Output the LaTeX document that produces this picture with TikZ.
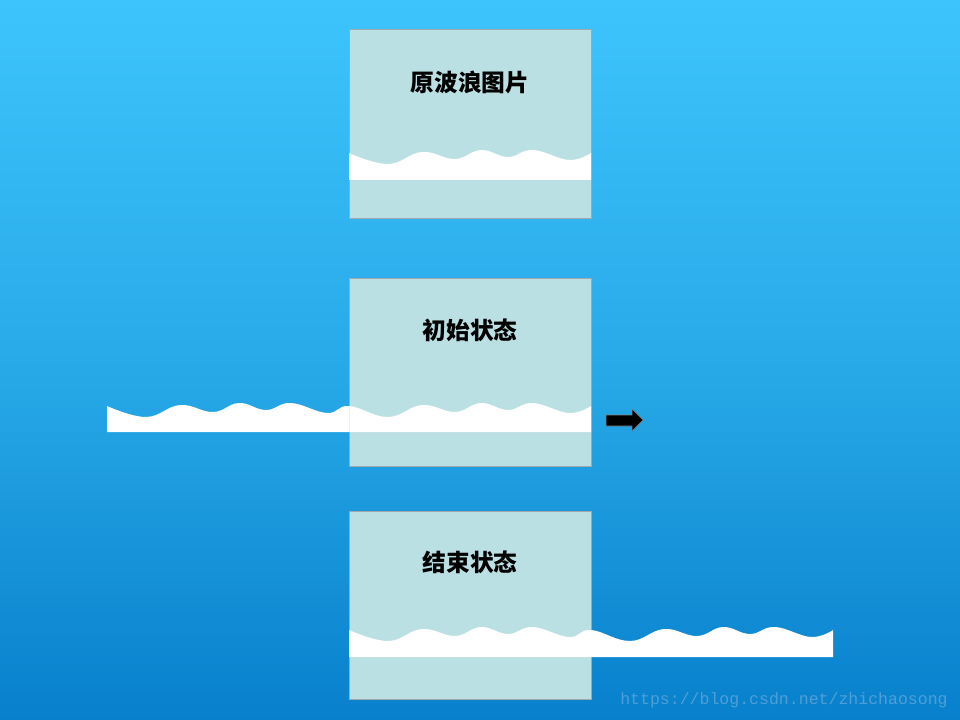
\documentclass[tikz,border=0pt]{standalone}
\usepackage{fontspec}
\newfontfamily\cjk{Noto Sans CJK SC}
\newfontfamily\wmono{Liberation Mono}
\definecolor{bgtop}{HTML}{3EC4FC}
\definecolor{bgmid}{HTML}{28AAE8}
\definecolor{bgbot}{HTML}{0880CC}
\definecolor{boxfill}{HTML}{BBE0E3}
\definecolor{boxline}{HTML}{A0A8AA}
\definecolor{wmark}{HTML}{4F9FD6}
\tikzset{
  panel/.style={draw=boxline, line width=0.6pt, fill=boxfill, minimum width=181.5pt, minimum height=141.5pt, inner sep=0pt},
  title/.style={font=\cjk\bfseries\fontsize{17.8}{20}\selectfont, text=black, inner sep=0pt},
  wave/.style={fill=white},
}
\begin{document}
\begin{tikzpicture}[x=0.75pt, y=-0.75pt]
\useasboundingbox (0,0) rectangle (960,720);
\shade[top color=bgtop, bottom color=bgbot, middle color=bgmid] (0,0) rectangle (960,720);
% panels
\node[panel] (b1) at (470,124) {};
\node[panel] (b2) at (470,372.5) {};
\node[panel] (b3) at (470,605.5) {};
% waves
\begin{scope}[shift={(349,153)}]
\fill[wave] plot[smooth,tension=0.7] coordinates {(0,0) (39,11) (73,-1) (106,6) (132,-3) (159,4) (184,-3) (220,7) (242,0)} -- (242,27) -- (0,27) -- cycle;
\end{scope}
\begin{scope}[shift={(107,406)}]
\fill[wave] plot[smooth,tension=0.7] coordinates {(0,0) (39,11) (73,-1) (106,6) (132,-3) (159,4) (184,-3) (220,7) (242,0) (281,11) (315,-1) (348,6) (374,-3) (401,4) (426,-3) (462,7) (484,0)} -- (484,26) -- (0,26) -- cycle;
\end{scope}
\begin{scope}[shift={(349,630)}]
\fill[wave] plot[smooth,tension=0.7] coordinates {(0,0) (39,11) (73,-1) (106,6) (132,-3) (159,4) (184,-3) (220,7) (242,0) (281,11) (315,-1) (348,6) (374,-3) (401,4) (426,-3) (462,7) (484,0)} -- (484,27) -- (0,27) -- cycle;
\end{scope}
\draw[draw=white!85!boxline, line width=0.4pt] (349,406) -- (349,432);
% titles
\node[title] (t1) at (470,82) {原波浪图片};
\node[title] (t2) at (470,330) {初始状态};
\node[title] (t3) at (470,562) {结束状态};
% arrow
\fill[black, draw=gray, line width=0.5pt] (606,415) -- (632,415) -- (632,409) -- (643,420) -- (632,431) -- (632,426) -- (606,426) -- cycle;
% watermark
\node[font=\wmono\fontsize{12.4}{14}\selectfont, text=wmark, anchor=west, inner sep=0pt] (wm) at (620,700) {https://blog.csdn.net/zhichaosong};
\end{tikzpicture}
\end{document}
